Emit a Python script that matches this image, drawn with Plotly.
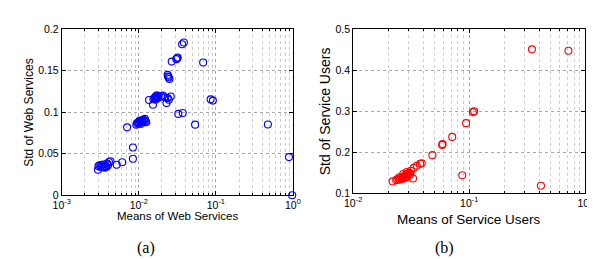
import plotly.graph_objects as go

# ---- data: Web Services (a) ----
ws_mean = [0.00296, 0.0030, 0.0031, 0.0033, 0.0035, 0.0034, 0.0036, 0.0037, 0.0038, 0.0039,
           0.0041, 0.0043, 0.0040, 0.0032, 0.00517, 0.0061, 0.0084, 0.0084, 0.00706,
           0.0093, 0.0095, 0.0098, 0.0100, 0.0102, 0.0105, 0.0107, 0.0110, 0.0112, 0.0115,
           0.0118, 0.0120, 0.0122, 0.0125, 0.0103, 0.0108,
           0.0136, 0.0153, 0.0155, 0.0160, 0.0163, 0.0167, 0.0170, 0.0172, 0.0175, 0.0180,
           0.0165, 0.0178, 0.0195, 0.0205, 0.0220, 0.0229, 0.0237, 0.0245, 0.0260,
           0.0237, 0.0240, 0.0245, 0.0250, 0.0268, 0.0307, 0.0320, 0.0315, 0.0365, 0.0385,
           0.0326, 0.0372, 0.0538, 0.0685, 0.0857, 0.0916, 0.474, 0.89, 0.98]
ws_std = [0.0306, 0.035, 0.036, 0.0365, 0.037, 0.034, 0.033, 0.035, 0.034, 0.038,
          0.040, 0.041, 0.036, 0.034, 0.0367, 0.0398, 0.044, 0.0574, 0.0818,
          0.085, 0.087, 0.086, 0.088, 0.087, 0.089, 0.088, 0.090, 0.089, 0.091,
          0.090, 0.092, 0.089, 0.088, 0.090, 0.086,
          0.1147, 0.109, 0.116, 0.117, 0.118, 0.119, 0.120, 0.118, 0.120, 0.119,
          0.115, 0.117, 0.119, 0.120, 0.118, 0.111, 0.117, 0.115, 0.119,
          0.145, 0.143, 0.142, 0.140, 0.161, 0.164, 0.166, 0.165, 0.182, 0.184,
          0.098, 0.099, 0.085, 0.160, 0.1155, 0.114, 0.0853, 0.0459, 0.0]

# ---- data: Service Users (b) ----
su_mean = [0.0219, 0.0235, 0.0240, 0.0250, 0.0255, 0.0260, 0.0265, 0.0270, 0.0275, 0.0280,
           0.0285, 0.0290, 0.0295, 0.0300, 0.0305, 0.0310, 0.0315, 0.0290, 0.0270, 0.0250,
           0.0328, 0.0333, 0.0354, 0.0378, 0.0390, 0.0482, 0.0585, 0.0590, 0.0714, 0.0871,
           0.0941, 0.1076, 0.1103, 0.347, 0.415, 0.716]
su_std = [0.129, 0.132, 0.134, 0.133, 0.136, 0.138, 0.135, 0.140, 0.142, 0.137,
          0.145, 0.140, 0.148, 0.143, 0.150, 0.146, 0.155, 0.152, 0.147, 0.139,
          0.136, 0.162, 0.167, 0.172, 0.173, 0.193, 0.218, 0.220, 0.2375, 0.144,
          0.271, 0.298, 0.300, 0.451, 0.1185, 0.4475]

ticks_a_x = [0.001, 0.01, 0.1, 1]
ticks_a_xt = ["10<sup>-3</sup>", "10<sup>-2</sup>", "10<sup>-1</sup>", "10<sup>0</sup>"]
ticks_a_y = [0, 0.05, 0.1, 0.15, 0.2]
ticks_a_yt = ["0", "0.05", "0.1", "0.15", "0.2"]
ticks_b_x = [0.01, 0.1, 1]
ticks_b_xt = ["10<sup>-2</sup>", "10<sup>-1</sup>", "10<sup>0</sup>"]
ticks_b_y = [0.1, 0.2, 0.3, 0.4, 0.5]
ticks_b_yt = ["0.1", "0.2", "0.3", "0.4", "0.5"]

W, H = 595, 259
fig = go.Figure()
fig.add_trace(go.Scatter(x=ws_mean, y=ws_std, mode="markers", xaxis="x", yaxis="y",
                         cliponaxis=False,
                         marker=dict(symbol="circle-open", size=7, color="#0000ff",
                                     line=dict(width=1.1, color="#0000ff"))))
fig.add_trace(go.Scatter(x=su_mean, y=su_std, mode="markers", xaxis="x2", yaxis="y2",
                         cliponaxis=False,
                         marker=dict(symbol="circle-open", size=7, color="#ff0000",
                                     line=dict(width=1.1, color="#ff0000"))))

grid = dict(showgrid=True, gridcolor="#a8a8a8", griddash="dot", gridwidth=1)
common = dict(showline=True, linecolor="black", linewidth=1, mirror="ticks",
              ticks="inside", ticklen=4, tickcolor="black", zeroline=False,
              tickfont=dict(family="Liberation Sans", size=10.5, color="black"), **grid)
minor = dict(dtick="D1", showgrid=True, gridcolor="#cccccc", griddash="dot",
             ticks="inside", ticklen=2, tickcolor="black")

fig.update_layout(
    width=W, height=H, margin=dict(l=0, r=0, t=0, b=0),
    paper_bgcolor="white", plot_bgcolor="white", showlegend=False,
    xaxis=dict(type="log", range=[-3, 0], tickvals=ticks_a_x, ticktext=ticks_a_xt,
               domain=[46 / W, 284 / W], anchor="y", minor=minor, **common),
    yaxis=dict(range=[0, 0.2], tickvals=ticks_a_y, ticktext=ticks_a_yt,
               domain=[1 - 190 / H, 1 - 16 / H], anchor="x", **common),
    xaxis2=dict(type="log", range=[-2, 0], tickvals=ticks_b_x, ticktext=ticks_b_xt,
                domain=[346 / W, 585 / W], anchor="y2", minor=minor, **common),
    yaxis2=dict(range=[0.1, 0.5], tickvals=ticks_b_y, ticktext=ticks_b_yt,
                domain=[1 - 188 / H, 1 - 16 / H], anchor="x2", **common),
)

def ann(text, x, y, size, family="Liberation Sans", angle=0):
    fig.add_annotation(text=text, x=x / W, y=1 - y / H, xref="paper", yref="paper",
                       showarrow=False, textangle=angle, xanchor="center", yanchor="middle",
                       font=dict(family=family, size=size, color="black"))

ann("Means of Web Services", 165, 212, 11.5)
ann("Std of Web Services", 13, 103, 12, angle=-90)
ann("Means of Service Users", 465, 215, 13.5)
ann("Std of Service Users", 317, 102, 14, angle=-90)
ann("(a)", 133, 245, 16, family="Liberation Serif")
ann("(b)", 440, 245, 16, family="Liberation Serif")

fig.write_html("out.html")
